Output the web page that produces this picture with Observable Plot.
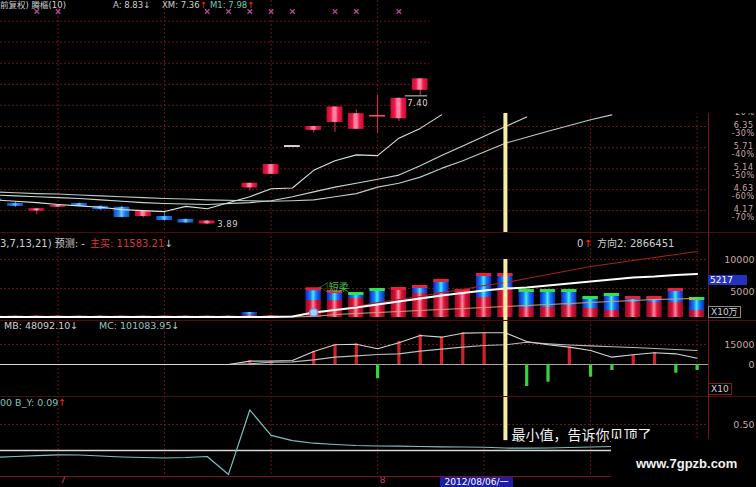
<!DOCTYPE html>
<html><head><meta charset="utf-8">
<script src="https://cdn.jsdelivr.net/npm/d3@7"></script>
<script src="https://cdn.jsdelivr.net/npm/@observablehq/plot@0.6"></script>
<style>
html,body{margin:0;padding:0;background:#000;}
#wrap{position:relative;width:756px;height:487px;overflow:hidden;background:#000;font-family:"DejaVu Sans","Noto Sans CJK SC",sans-serif;}
.pnl{position:absolute;left:0;width:756px;}
.pnl svg{display:block;}
#p1 text{letter-spacing:0.5px;}
.t{position:absolute;white-space:nowrap;font-size:8.5px;line-height:11px;color:#cfcfcf;}
.t2{font-size:10px;}
.t3{font-size:9.5px;}
.sep{position:absolute;left:0;width:756px;height:1px;background:#4e0c0c;}
.box{position:absolute;font-size:9px;line-height:10px;white-space:nowrap;}
.up{color:#ff2a2a;}
.wh{color:#cfcfcf;}
</style></head>
<body>
<svg width="0" height="0" style="position:absolute">
<defs>
<linearGradient id="cRed" x1="0" y1="0" x2="1" y2="0">
<stop offset="0" stop-color="#c80c34"/><stop offset="0.28" stop-color="#f0184a"/><stop offset="0.42" stop-color="#ff82a2"/><stop offset="0.58" stop-color="#ff82a2"/><stop offset="0.72" stop-color="#f0184a"/><stop offset="1" stop-color="#c80c34"/>
</linearGradient>
<linearGradient id="cBlue" x1="0" y1="0" x2="1" y2="0">
<stop offset="0" stop-color="#0f58c8"/><stop offset="0.3" stop-color="#1f80f0"/><stop offset="0.5" stop-color="#70c6ff"/><stop offset="0.7" stop-color="#1f80f0"/><stop offset="1" stop-color="#0f58c8"/>
</linearGradient>
<linearGradient id="vRed" x1="0" y1="0" x2="1" y2="0">
<stop offset="0" stop-color="#9a0a26"/><stop offset="0.3" stop-color="#d81434"/><stop offset="0.5" stop-color="#ff88a8"/><stop offset="0.7" stop-color="#d81434"/><stop offset="1" stop-color="#9a0a26"/>
</linearGradient>
<linearGradient id="vBlue" x1="0" y1="0" x2="1" y2="0">
<stop offset="0" stop-color="#0c28c8"/><stop offset="0.32" stop-color="#1a7cf0"/><stop offset="0.5" stop-color="#3cecff"/><stop offset="0.68" stop-color="#1a7cf0"/><stop offset="1" stop-color="#0c28c8"/>
</linearGradient>
</defs></svg>
<div id="wrap">
  <div class="pnl" id="p1" style="top:0"></div>
  <div class="pnl" id="p2" style="top:232px"></div>
  <div class="pnl" id="p3" style="top:320px"></div>
  <div class="pnl" id="p4" style="top:396px"></div>

  <div class="sep" style="top:232px"></div>
  <div class="sep" style="top:320px"></div>
  <div class="sep" style="top:396px"></div>
  <div class="sep" style="top:476px;background:#7a1515"></div>
  <div style="position:absolute;left:708px;top:113px;width:1px;height:374px;background:#7a1414"></div>

  <!-- cut-off areas of the screenshot -->
  <div style="position:absolute;left:429px;top:0;width:327px;height:113px;background:#000"></div>
  <div style="position:absolute;left:611px;top:439px;width:145px;height:48px;background:#000"></div>
  <div style="position:absolute;left:636px;top:456px;font:bold 13px 'Liberation Sans',sans-serif;color:#f2f2f2">www.7gpzb.com</div>

  <div class="t" style="left:0;top:0">前复权) 腾樞(10)</div>
  <div class="t" style="left:113px;top:0">A: 8.83↓</div>
  <div class="t" style="left:162px;top:0">XM: 7.36<span class="up">↑</span></div>
  <div class="t" style="left:210px;top:0;color:#76c6b8">M1: 7.98<span class="up">↑</span></div>

  <div class="t t2" style="left:0;top:238px">3,7,13,21) 预测: -</div>
  <div class="t t2" style="left:90px;top:238px;color:#d83838">主买: 11583.21<span class="wh">↓</span></div>
  <div class="t t2" style="left:577px;top:238px">0<span class="up">↑</span></div>
  <div class="t t2" style="left:597px;top:238px">方向2: 2866451</div>

  <div class="t t3" style="left:4px;top:320px">MB: 48092.10↓</div>
  <div class="t t3" style="left:99px;top:320px;color:#8cc8c0">MC: 101083.95<span class="wh">↓</span></div>

  <div class="t t3" style="left:0;top:397px;color:#80c4c0">00 B_Y: 0.09<span class="up">↑</span></div>

  <div class="box" style="left:708px;top:275px;width:37px;height:10px;background:#2430c0;color:#fff;padding-left:2px">5217</div>
  <div class="box" style="left:708px;top:306px;border:1px solid #8a8a8a;color:#d0d0d0;padding:0 2px">X10万</div>
  <div class="box" style="left:708px;top:383px;border:1px solid #8a1a1a;color:#d0d0d0;padding:0 2px">X10</div>
  <div class="box" style="left:440px;top:477px;width:73px;height:10px;line-height:10px;background:#1c1ca8;color:#fff;font-size:9px;text-align:center">2012/08/06/一</div>
</div>
<script>
// ---------- data (x = trading-day index) ----------
const candleK     = [0,1,2,3,4,5,6,7,8,9,10,12,13,14,15,16,17,18,19,20];
const candleOpen  = [4.42,4.32,4.16,4.24,4.32,4.26,4.24,4.05,4.05,3.99,3.90,4.67,5.00,5.76,6.23,6.48,6.26,6.70,6.60,7.61];
const candleClose = [4.38,4.26,4.21,4.28,4.26,4.19,4.03,4.16,3.97,3.92,3.96,4.78,5.25,5.76,6.35,7.00,6.77,6.70,7.31,8.06];
const candleHigh  = [4.43,4.36,4.22,4.29,4.33,4.27,4.26,4.17,4.13,4.00,3.97,4.79,5.26,5.76,6.36,7.01,6.90,7.42,7.32,8.07];
const candleLow   = [4.37,4.24,4.09,4.23,4.25,4.18,4.02,4.02,3.96,3.91,3.89,4.60,4.99,5.76,6.14,6.17,6.26,6.14,6.51,7.40];
const candleKind  = ["dn","dn","up","up","dn","dn","dn","up","dn","dn","up","up","up","flat","up","up","up","up","up","up"];

const maFastK = [0,1,2,3,4,5,6,7,8,9,10,12,13,14,15,16,17,18,19,20,21];
const maFast  = [4.40,4.37,4.34,4.30,4.27,4.24,4.19,4.17,4.15,4.26,4.21,4.47,4.65,4.67,5.10,5.35,5.51,5.49,5.99,6.29,6.73];
const maMidK  = [0,1,2,3,4,5,6,7,8,9,10,12,13,14,15,16,17,18,19,20,21,22,23,24,25];
const maMid   = [4.51,4.49,4.47,4.45,4.43,4.40,4.37,4.34,4.32,4.31,4.30,4.34,4.38,4.47,4.58,4.69,4.78,4.88,4.98,5.22,5.49,5.76,6.05,6.35,6.66];
const maSlowK = [0,1,2,3,4,5,6,7,8,9,10,12,13,14,15,16,17,18,19,20,21,22,23,24,25,26,27,28,29];
const maSlow  = [4.58,4.56,4.54,4.53,4.51,4.49,4.47,4.45,4.43,4.42,4.40,4.38,4.37,4.38,4.40,4.47,4.54,4.69,4.78,4.93,5.15,5.35,5.59,5.84,6.02,6.20,6.38,6.57,6.73];

const markerK = [2,3,10,11,12,13,14,16,17,19];
const priceTicks = [4.17,4.63,5.14,5.71,6.35,7.06];
const priceTickPct = ["-70%","-60%","-50%","-40%","-30%","-20%"];
const priceGrid = [4.17,4.63,5.14,5.71,6.35,7.06,7.84,8.71,9.68,10.75];
const lowLabel = {k:10, v:3.89, text:"3.89"};
const highLabel = {k:20, v:7.40, text:"7.40"};

const volTotal = [250,250,250,250,250,250,250,250,250,250,250,250,860,300,200,4950,4480,4140,4830,5000,5340,6380,4650,7410,7410,4650,4650,4650,3450,3970,3450,3450,4830,3280];
const volRedPart = [250,250,250,250,250,250,250,250,250,250,250,250,400,300,200,2930,2930,3280,2410,5000,4140,4140,4650,3450,5000,1720,1720,2070,1550,1210,2590,2590,2590,1210];
const volCap = ["","","","","","","","","","","","","","","","r","r","g","g","r","r","r","r","r","r","g","g","g","g","g","r","r","r","g"];
const volWhite = [100,100,100,100,100,100,100,100,100,100,100,100,100,100,170,860,1290,1720,2240,2760,3280,3790,4220,4650,5000,5170,5520,5860,6210,6550,6900,7070,7330,7500];
const volRedLineK = [15,16,17,18,19,20,21,22,23,24,25,26,27,28,29,30,31,32,33];
const volRedLine = [690,1210,1900,2590,3100,3620,4310,4830,5520,6030,6720,7410,8100,8790,9310,9830,10340,10860,11380];
const volOrange = [100,100,100,100,100,100,100,100,100,100,100,100,100,100,100,170,520,690,860,1030,1210,1380,1550,1720,1900,2070,2240,2410,2590,2760,2930,3100,3190,3280];
const volTicks = [5000,10000];
const volMarker = {k:15, v:860};
const volNote = {k:15, v:4950, text:"◁短柔"};

const macdBar = [0,0,0,0,0,0,0,0,0,0,0,0,3000,2250,0,9750,14750,15500,-10750,17250,22250,20500,23750,23750,23000,-16500,-13250,13000,-9500,-4500,6750,8750,-6500,-4500];
const macdLine1 = [0,0,0,0,0,0,0,0,0,0,0,0,2500,2600,3000,9750,14800,15200,11800,16300,21750,20500,23500,23800,23800,17250,14800,13000,10500,5500,7300,8800,8000,4700];
const macdLine2 = [0,0,0,0,0,0,0,0,0,0,0,0,500,1750,2000,3500,5500,6500,7500,8000,10000,11500,13000,14200,14800,16700,15500,14600,14000,13300,12800,12000,11300,10500];
const macdTicks = [0,15000];

const byVal = [-0.13,-0.115,-0.10,-0.083,-0.087,-0.106,-0.125,-0.135,-0.144,-0.135,-0.115,-0.46,0.78,0.29,0.19,0.14,0.115,0.096,0.087,0.083,0.077,0.071,0.067,0.063,0.048,0.044,0.048,0.058,0.067,0.077];
const byTicks = [0.5];
const monthTicks = [{k:3, label:"7"},{k:18, label:"8"}];
const signalK = 24;
const signalNote = {k:24, v:0.29, text:"最小值，告诉你见顶了"};

// ---------- helpers ----------
const FONT = "DejaVu Sans";
const GRID = "#6a1414";
const AXC = "#c8a8a8";
const YEL = "#f6eea2";
const vGridK = [3,8,13,18,23,28,33];
const HALF = 0.37;
const common = {width:756, marginLeft:0, marginRight:48, marginTop:0, marginBottom:0,
  x:{domain:[0.296,33.535], axis:null},
  style:{background:"#000", overflow:"hidden", display:"block"}};
const dotted = {stroke:GRID, strokeDasharray:"2,2"};
const series = (ks, vs) => ks.map((k,i)=>({k, v:vs[i]}));
const put = (id, opts) => document.getElementById(id).appendChild(Plot.plot(Object.assign({}, common, opts)));

// ---------- panel 1: candles ----------
const candles = candleK.map((k,i)=>({k, o:candleOpen[i], c:candleClose[i], h:candleHigh[i], l:candleLow[i], t:candleKind[i]}));
const pTicks = priceTicks.map((v,i)=>({v, pct:priceTickPct[i]}));
const bodyY1 = d=>Math.min(d.o,d.c), bodyY2 = d=>Math.max(d.o,d.c);
const bx1 = d=>d.k-HALF, bx2 = d=>d.k+HALF;
put("p1", {height:232, y:{type:"log", domain:[3.738,11.92], axis:null}, marks:[
  Plot.ruleY(priceGrid, dotted),
  Plot.ruleX(vGridK, dotted),
  Plot.ruleX(candles.filter(d=>d.t==="up"), {x:"k", y1:"l", y2:"h", stroke:"#ea2a50"}),
  Plot.ruleX(candles.filter(d=>d.t==="dn"), {x:"k", y1:"l", y2:"h", stroke:"#3090f0"}),
  Plot.rect(candles.filter(d=>d.t==="up" && d.o!==d.c), {x1:bx1, x2:bx2, y1:bodyY1, y2:bodyY2, fill:"url(#cRed)"}),
  Plot.rect(candles.filter(d=>d.t==="dn"), {x1:bx1, x2:bx2, y1:bodyY1, y2:bodyY2, fill:"url(#cBlue)"}),
  Plot.ruleY(candles.filter(d=>d.t==="up" && d.o===d.c), {y:"c", x1:bx1, x2:bx2, stroke:"#ff4a6a", strokeWidth:1.6}),
  Plot.ruleY(candles.filter(d=>d.t==="flat"), {y:"c", x1:bx1, x2:bx2, stroke:"#cfcfcf", strokeWidth:2}),
  Plot.line(series(maSlowK, maSlow), {x:"k", y:"v", stroke:"#b8ccc4", strokeWidth:1.1}),
  Plot.line(series(maMidK, maMid), {x:"k", y:"v", stroke:"#c4d8d0", strokeWidth:1.1}),
  Plot.line(series(maFastK, maFast), {x:"k", y:"v", stroke:"#d4e4de", strokeWidth:1.1}),
  Plot.ruleX([signalK], {stroke:YEL, strokeWidth:4}),
  Plot.text([lowLabel], {x:"k", y:"v", text:"text", dx:10, textAnchor:"start", fill:"#d0d0d0", fontSize:8.5, fontFamily:FONT}),
  Plot.ruleY([highLabel], {y:"v", x1:d=>d.k-0.7, x2:d=>d.k+0.35, stroke:"#d0d0d0"}),
  Plot.text([highLabel], {x:"k", y:"v", text:"text", dx:8, dy:7, textAnchor:"end", fill:"#d8d8d8", fontSize:8.5, fontFamily:FONT}),
  Plot.dot(markerK, {x:d=>d, frameAnchor:"top", dy:11, symbol:"times", r:2.2, stroke:"#b0479a", strokeWidth:1.3}),
  Plot.text(pTicks, {y:"v", text:d=>d.v.toFixed(2), frameAnchor:"right", dx:45, dy:-1.5, textAnchor:"end", fill:AXC, fontSize:8, fontFamily:FONT}),
  Plot.text(pTicks, {y:"v", text:"pct", frameAnchor:"right", dx:46, dy:7, textAnchor:"end", fill:AXC, fontSize:8, fontFamily:FONT})
]});

// ---------- panel 2: volume ----------
const vol = volTotal.map((t,k)=>({k, t, r:volRedPart[k], cap:volCap[k]}));
const vx1 = d=>d.k-0.36, vx2 = d=>d.k+0.36;
put("p2", {height:88, y:{domain:[-517,14654], axis:null}, marks:[
  Plot.ruleY(volTicks, dotted),
  Plot.ruleX(vGridK, dotted),
  Plot.rect(vol, {x1:vx1, x2:vx2, y1:()=>0, y2:"r", fill:"url(#vRed)"}),
  Plot.rect(vol.filter(d=>d.t>d.r), {x1:vx1, x2:vx2, y1:"r", y2:"t", fill:"url(#vBlue)"}),
  Plot.ruleY(vol.filter(d=>d.cap==="r"), {y:"t", x1:vx1, x2:vx2, stroke:"#e8203e", strokeWidth:3}),
  Plot.ruleY(vol.filter(d=>d.cap==="g"), {y:"t", x1:vx1, x2:vx2, stroke:"#34e04c", strokeWidth:3}),
  Plot.line(volOrange.map((v,k)=>({k,v})), {x:"k", y:"v", stroke:"#d8a070", strokeWidth:1}),
  Plot.line(series(volRedLineK, volRedLine), {x:"k", y:"v", stroke:"#a82020", strokeWidth:1.2}),
  Plot.line(volWhite.map((v,k)=>({k,v})), {x:"k", y:"v", stroke:"#ffffff", strokeWidth:2}),
  Plot.dot([volMarker], {x:"k", y:"v", r:4, fill:"#a8d0ff", stroke:"#6a98e0"}),
  Plot.text([volNote], {x:"k", y:"v", text:"text", dx:5, dy:-1, textAnchor:"start", fill:"#40c040", fontSize:10, fontFamily:"Noto Sans CJK SC"}),
  Plot.ruleX([signalK], {y1:()=>-600, y2:()=>10000, stroke:YEL, strokeWidth:4}),
  Plot.text([10000], {y:d=>d, text:d=>String(d), frameAnchor:"right", dx:46, textAnchor:"end", fill:AXC, fontSize:9.5, fontFamily:FONT}),
  Plot.text([5000], {y:d=>d, text:d=>String(d), frameAnchor:"right", dx:46, dy:3, textAnchor:"end", fill:AXC, fontSize:9.5, fontFamily:FONT})
]});

// ---------- panel 3: MACD-like ----------
const macd = macdBar.map((v,k)=>({k, v, a:macdLine1[k], b:macdLine2[k]}));
put("p3", {height:76, y:{domain:[-24000,33000], axis:null}, marks:[
  Plot.ruleY([15000], dotted),
  Plot.ruleX(vGridK, dotted),
  Plot.ruleY([0], {stroke:"#a8a8a8", strokeWidth:1.2}),
  Plot.ruleX(macd.filter(d=>d.v>0), {x:"k", y1:()=>0, y2:"v", stroke:"#d42028", strokeWidth:3.2}),
  Plot.ruleX(macd.filter(d=>d.v<0), {x:"k", y1:()=>0, y2:"v", stroke:"#3ad23a", strokeWidth:3.2}),
  Plot.line(macd, {x:"k", y:"b", stroke:"#b4bcbc", strokeWidth:1.1}),
  Plot.line(macd, {x:"k", y:"a", stroke:"#d4d4d4", strokeWidth:1.1}),
  Plot.ruleX([signalK], {stroke:YEL, strokeWidth:4}),
  Plot.text(macdTicks, {y:d=>d, text:d=>String(d), frameAnchor:"right", dx:46, textAnchor:"end", fill:AXC, fontSize:9.5, fontFamily:FONT})
]});

// ---------- panel 4: B_Y ----------
put("p4", {height:91, marginBottom:11, y:{domain:[-0.5,1.0385], axis:null}, marks:[
  Plot.ruleY(byTicks, dotted),
  Plot.ruleX(vGridK, dotted),
  Plot.ruleY([0], {stroke:"#d8d8d8", strokeWidth:1.5}),
  Plot.line(byVal.map((v,k)=>({k,v})), {x:"k", y:"v", stroke:"#7ec0c0", strokeWidth:1.2}),
  Plot.ruleX([signalK], {y1:()=>1.2, y2:()=>0.19, stroke:YEL, strokeWidth:4}),
  Plot.text([signalNote], {x:"k", y:"v", text:"text", dx:6, textAnchor:"start", fill:"#f2f2f2", fontSize:14, fontFamily:"Noto Sans CJK SC"}),
  Plot.text(byTicks, {y:d=>d, text:d=>d.toFixed(2), frameAnchor:"right", dx:46, textAnchor:"end", fill:AXC, fontSize:9.5, fontFamily:FONT}),
  Plot.text(monthTicks, {x:"k", text:"label", frameAnchor:"bottom", dy:6, dx:2, textAnchor:"start", fill:"#c84040", fontSize:9.5, fontFamily:FONT})
]});
</script>
</body></html>
